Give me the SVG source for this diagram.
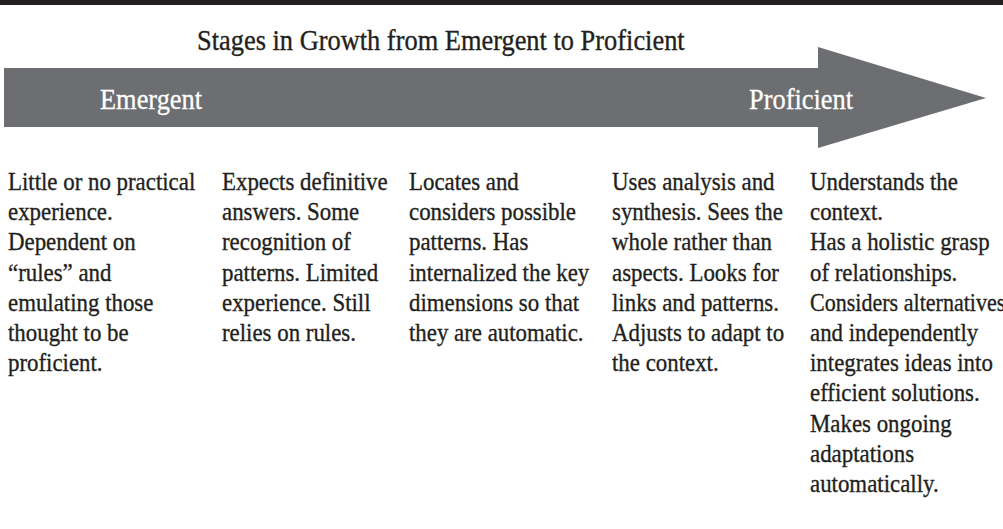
<svg xmlns="http://www.w3.org/2000/svg" width="1003" height="529" viewBox="0 0 1003 529">
<style>
.t{font-family:"Liberation Serif","Times New Roman",serif;fill:#231f20;stroke:#231f20;stroke-width:0.35}
.title{font-size:30px}
.lab{font-family:"Liberation Serif","Times New Roman",serif;font-size:30px;fill:#ffffff;stroke:#ffffff;stroke-width:0.3}
.body{font-size:26px}
</style>
<rect x="0" y="0" width="1003" height="5" fill="#231f20"/>
<text class="t title" transform="translate(197,50) scale(0.88,1)">Stages in Growth from Emergent to Proficient</text>
<g id="arrow">
<polygon points="4,68 818,68 818,47 986,98 818,148 818,127 4,127" fill="#6d6e71"/>
<text class="lab" transform="translate(100,109) scale(0.88,1)">Emergent</text>
<text class="lab" transform="translate(749,109) scale(0.88,1)">Proficient</text>
</g>
<g id="stage1">
<text class="t body" transform="translate(8,190) scale(0.88,1)"><tspan x="0" y="0">Little or no practical</tspan><tspan x="0" y="30.2">experience.</tspan><tspan x="0" y="60.4">Dependent on</tspan><tspan x="0" y="90.6">“rules” and</tspan><tspan x="0" y="120.8">emulating those</tspan><tspan x="0" y="151">thought to be</tspan><tspan x="0" y="181.2">proficient.</tspan></text>
</g>
<g id="stage2">
<text class="t body" transform="translate(222,190) scale(0.88,1)"><tspan x="0" y="0">Expects definitive</tspan><tspan x="0" y="30.2">answers. Some</tspan><tspan x="0" y="60.4">recognition of</tspan><tspan x="0" y="90.6">patterns. Limited</tspan><tspan x="0" y="120.8">experience. Still</tspan><tspan x="0" y="151">relies on rules.</tspan></text>
</g>
<g id="stage3">
<text class="t body" transform="translate(409,190) scale(0.88,1)"><tspan x="0" y="0">Locates and</tspan><tspan x="0" y="30.2">considers possible</tspan><tspan x="0" y="60.4">patterns. Has</tspan><tspan x="0" y="90.6">internalized the key</tspan><tspan x="0" y="120.8">dimensions so that</tspan><tspan x="0" y="151">they are automatic.</tspan></text>
</g>
<g id="stage4">
<text class="t body" transform="translate(612,190) scale(0.88,1)"><tspan x="0" y="0">Uses analysis and</tspan><tspan x="0" y="30.2">synthesis. Sees the</tspan><tspan x="0" y="60.4">whole rather than</tspan><tspan x="0" y="90.6">aspects. Looks for</tspan><tspan x="0" y="120.8">links and patterns.</tspan><tspan x="0" y="151">Adjusts to adapt to</tspan><tspan x="0" y="181.2">the context.</tspan></text>
</g>
<g id="stage5">
<text class="t body" transform="translate(810,190) scale(0.88,1)"><tspan x="0" y="0">Understands the</tspan><tspan x="0" y="30.2">context.</tspan><tspan x="0" y="60.4">Has a holistic grasp</tspan><tspan x="0" y="90.6">of relationships.</tspan></text>
<text class="t body" transform="translate(810,310.8) scale(0.88,1)" textLength="222" lengthAdjust="spacingAndGlyphs">Considers alternatives</text>
<text class="t body" transform="translate(810,190) scale(0.88,1)"><tspan x="0" y="151">and independently</tspan><tspan x="0" y="181.2">integrates ideas into</tspan><tspan x="0" y="211.4">efficient solutions.</tspan><tspan x="0" y="241.6">Makes ongoing</tspan><tspan x="0" y="271.8">adaptations</tspan><tspan x="0" y="302">automatically.</tspan></text>
</g>
</svg>
